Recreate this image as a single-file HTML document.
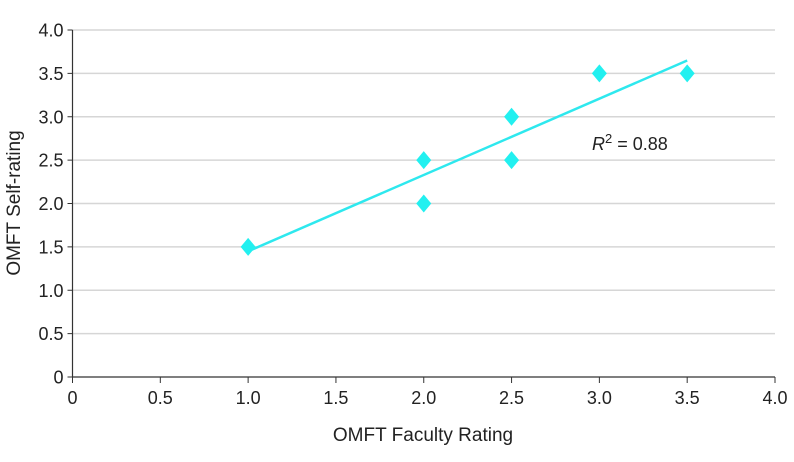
<!DOCTYPE html>
<html><head><meta charset="utf-8"><style>
html,body{margin:0;padding:0;background:#fff;}
svg{display:block;font-family:"Liberation Sans",sans-serif;}
</style></head><body>
<svg id="chart" width="794" height="462"></svg>
<script>
const xVals=[1,2,2,2.5,2.5,3,3.5];
const yVals=[1.5,2.5,2,3,2.5,3.5,3.5];
const xTicks=["0","0.5","1.0","1.5","2.0","2.5","3.0","3.5","4.0"];
const yTicks=["0","0.5","1.0","1.5","2.0","2.5","3.0","3.5","4.0"];
const r2Label="0.88";
const NS="http://www.w3.org/2000/svg";
const svg=document.getElementById('chart');
const X0=72.5,X1=775,Y0=377,Y1=30;
const sx=v=>X0+(v/4)*(X1-X0);
const sy=v=>Y0-(v/4)*(Y0-Y1);
function mk(t,a,p){const e=document.createElementNS(NS,t);for(const k in a)e.setAttribute(k,a[k]);(p||svg).appendChild(e);return e;}
yTicks.forEach((t,i)=>{const v=parseFloat(t);const y=sy(v);
 if(v>0){const g=mk('line',{x1:X0,x2:X1,y1:y,y2:y,stroke:'#d6d6d6','stroke-width':1.5});
 
 }
 const tk=mk('line',{x1:X0-5,x2:X0,y1:y,y2:y,stroke:'#333','stroke-width':1});
 
 
 const tx=mk('text',{x:X0-9,y:y+6.5,'text-anchor':'end','font-size':18,fill:'#222'});tx.textContent=t;
 
 
});
xTicks.forEach(t=>{const v=parseFloat(t);const x=sx(v);
 const tk=mk('line',{x1:x,x2:x,y1:Y0,y2:Y0+6,stroke:'#333','stroke-width':1});
 
 
 const tx=mk('text',{x:x,y:Y0+27,'text-anchor':'middle','font-size':18,fill:'#222'});tx.textContent=t;
 
 
});
const ya=mk('line',{x1:X0,x2:X0,y1:Y1,y2:Y0,stroke:'#333','stroke-width':1.2});


const xa=mk('line',{x1:X0,x2:X1,y1:Y0,y2:Y0,stroke:'#333','stroke-width':1.2});


const n=xVals.length,mx=xVals.reduce((a,b)=>a+b)/n,my=yVals.reduce((a,b)=>a+b)/n;
let sxy=0,sxx=0;xVals.forEach((x,i)=>{sxy+=(x-mx)*(yVals[i]-my);sxx+=(x-mx)**2;});
const slope=sxy/sxx,icpt=my-slope*mx;
const xmin=Math.min(...xVals),xmax=Math.max(...xVals);
const tl=mk('line',{x1:sx(xmin),y1:sy(icpt+slope*xmin),x2:sx(xmax),y2:sy(icpt+slope*xmax),stroke:'#2ee8ee','stroke-width':2.5});


xVals.forEach((x,i)=>{const cx=sx(x),cy=sy(yVals[i]);
 const d=mk('polygon',{points:`${cx},${cy-9} ${cx+7.5},${cy} ${cx},${cy+9} ${cx-7.5},${cy}`,fill:'#22f0f0'});
 
 
});
const r=mk('text',{x:592,y:150,'font-size':18,fill:'#222'});


r.innerHTML='<tspan font-style="italic">R</tspan><tspan dy="-7" font-size="13">2</tspan><tspan dy="7"> = '+r2Label+'</tspan>';
const xt=mk('text',{x:423,y:441,'text-anchor':'middle','font-size':19,fill:'#222'});xt.textContent='OMFT Faculty Rating';


const yt=mk('text',{x:0,y:0,'text-anchor':'middle','font-size':19,fill:'#222',transform:'translate(20,203) rotate(-90)'});yt.textContent='OMFT Self-rating';


</script>
</body></html>
